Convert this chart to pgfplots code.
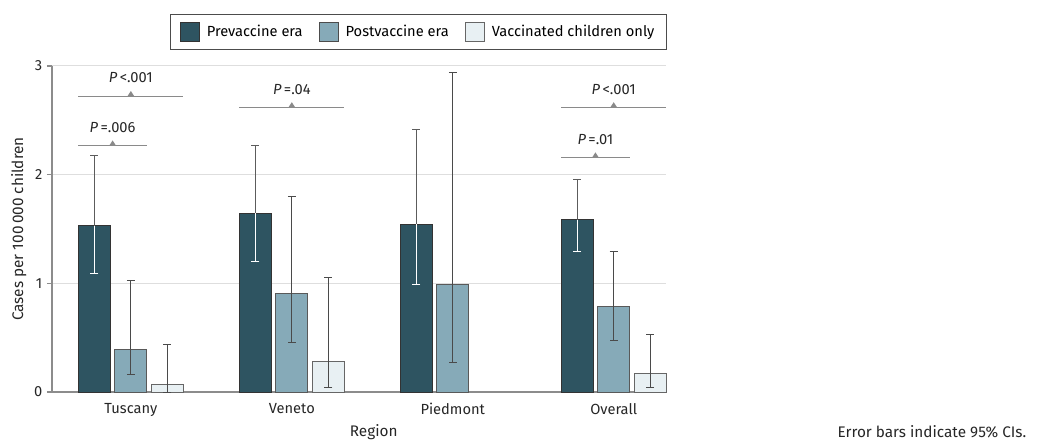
\documentclass[border=0pt]{standalone}
\usepackage{pgfplots}
\pgfplotsset{compat=1.18}
\usepackage{fontspec}
\setmainfont{Fira Sans}
\definecolor{preC}{HTML}{2E5461}
\definecolor{postC}{HTML}{86AAB8}
\definecolor{vacC}{HTML}{E8F0F3}
\definecolor{errC}{HTML}{4A4A4A}
\definecolor{annC}{HTML}{8A8A8A}
\definecolor{gridC}{HTML}{DEDEDE}
\definecolor{axC}{HTML}{8C8C8C}

% bar positions: category centre -0.2267 (pre), 0 (post), +0.2267 (vaccinated)
\pgfplotstableread{
x y ep em
-0.2267 1.53 0.65 0.44
0.7733 1.645 0.625 0.448
1.7733 1.546 0.874 0.560
2.7733 1.583 0.373 0.294
}\pre
\pgfplotstableread{
x y ep em
0 0.39 0.635 0.23
1 0.903 0.894 0.444
2 0.992 1.948 0.722
3 0.784 0.511 0.306
}\post
\pgfplotstableread{
x y ep em
0.2267 0.07 0.37 0.07
1.2267 0.285 0.765 0.239
3.2267 0.174 0.352 0.128
}\vac

\begin{document}
\begin{tikzpicture}
\useasboundingbox (0pt,0pt) rectangle (783pt,331.5pt);
\begin{axis}[
  at={(39pt,37.5pt)}, anchor=south west,
  scale only axis, width=460.5pt, height=244.5pt,
  xmin=-0.49, xmax=3.325, ymin=0, ymax=3,
  clip=false,
  axis x line*=bottom, axis y line*=left,
  axis line style={-, draw=axC, line width=0.9pt},
  xtick={0,1,2,3}, xticklabels={Tuscany,Veneto,Piedmont,Overall},
  ytick={0,1,2,3},
  x tick style={draw=none},
  y tick style={draw=axC, line width=0.9pt},
  tick align=outside, major tick length=3.75pt,
  ymajorgrids, grid style={draw=gridC, line width=0.75pt},
  tick label style={font=\fontsize{11}{13}\selectfont, text=black!85},
  /pgf/number format/assume math mode=true,
  xticklabel style={yshift=-1pt},
  ylabel={Cases per 100\,000 children},
  xlabel={Region},
  label style={font=\fontsize{11.5}{13}\selectfont, text=black!85},
  ylabel style={yshift=-1pt},
  xlabel style={at={(axis description cs:0.524,0)}, anchor=north, yshift=-21pt},
  legend columns=3,
  legend style={at={(rel axis cs:1.0015,1)}, anchor=south east, yshift=12pt,
    draw=black!70, line width=0.75pt, font=\fontsize{11}{13}\selectfont,
    inner xsep=7pt, inner ysep=5.5pt,
    /tikz/every odd column/.append style={column sep=3pt},
    /tikz/every even column/.append style={column sep=10pt}},
]
\addlegendimage{legend image code/.code={\draw[fill=preC,draw=black!80,line width=0.75pt] (0pt,-7.25pt) rectangle (14.5pt,7.25pt);}}
\addlegendentry{Prevaccine era}
\addlegendimage{legend image code/.code={\draw[fill=postC,draw=black!70,line width=0.75pt] (0pt,-7.25pt) rectangle (14.5pt,7.25pt);}}
\addlegendentry{Postvaccine era}
\addlegendimage{legend image code/.code={\draw[fill=vacC,draw=black!60,line width=0.75pt] (0pt,-7.25pt) rectangle (14.5pt,7.25pt);}}
\addlegendentry{Vaccinated children only}

\addplot[ybar, bar width=24pt, bar shift=0pt, fill=preC, draw=black!80, line width=0.75pt,
  error bars/.cd, y dir=both, y explicit,
  error bar style={draw=errC!90, line width=0.75pt},
  error mark options={rotate=90, mark size=3pt, draw=errC!90, line width=0.75pt}]
  table[x=x, y=y, y error plus=ep, y error minus=em] {\pre};
\addplot[ybar, bar width=24pt, bar shift=0pt, fill=none, draw=none,
  error bars/.cd, y dir=minus, y explicit,
  error bar style={draw=white, line width=0.75pt},
  error mark options={rotate=90, mark size=3pt, draw=white, line width=0.75pt}]
  table[x=x, y=y, y error plus=ep, y error minus=em] {\pre};
\addplot[ybar, bar width=24pt, bar shift=0pt, fill=postC, draw=black!65, line width=0.75pt,
  error bars/.cd, y dir=both, y explicit,
  error bar style={draw=errC, line width=0.75pt},
  error mark options={rotate=90, mark size=3pt, draw=errC, line width=0.75pt}]
  table[x=x, y=y, y error plus=ep, y error minus=em] {\post};
\addplot[ybar, bar width=24pt, bar shift=0pt, fill=vacC, draw=black!60, line width=0.75pt,
  error bars/.cd, y dir=both, y explicit,
  error bar style={draw=errC, line width=0.75pt},
  error mark options={rotate=90, mark size=3pt, draw=errC, line width=0.75pt}]
  table[x=x, y=y, y error plus=ep, y error minus=em] {\vac};

% significance brackets
\begin{scope}[annC, line width=0.9pt]
\draw (axis cs:-0.326,2.72) -- (axis cs:0.326,2.72);
\fill (axis cs:-0.022,2.72) -- (axis cs:0.022,2.72) -- (axis cs:0,2.77) -- cycle;
\draw (axis cs:-0.326,2.265) -- (axis cs:0.099,2.265);
\fill (axis cs:-0.1355,2.265) -- (axis cs:-0.0915,2.265) -- (axis cs:-0.1135,2.315) -- cycle;
\draw (axis cs:0.674,2.617) -- (axis cs:1.326,2.617);
\fill (axis cs:0.978,2.617) -- (axis cs:1.022,2.617) -- (axis cs:1,2.667) -- cycle;
\draw (axis cs:2.674,2.617) -- (axis cs:3.326,2.617);
\fill (axis cs:2.978,2.617) -- (axis cs:3.022,2.617) -- (axis cs:3,2.667) -- cycle;
\draw (axis cs:2.674,2.155) -- (axis cs:3.099,2.155);
\fill (axis cs:2.8645,2.155) -- (axis cs:2.9085,2.155) -- (axis cs:2.8865,2.205) -- cycle;
\end{scope}
\begin{scope}[every node/.style={font=\fontsize{11}{13}\selectfont, text=black!85, yshift=13.9pt}]
\node at (axis cs:0,2.72) {\textit{P}\,<.001};
\node at (axis cs:-0.1135,2.265) {\textit{P}\,=.006};
\node at (axis cs:1,2.617) {\textit{P}\,=.04};
\node at (axis cs:3,2.617) {\textit{P}\,<.001};
\node at (axis cs:2.8865,2.155) {\textit{P}\,=.01};
\end{scope}
\end{axis}
\node[anchor=east, font=\fontsize{11.5}{13}\selectfont, text=black!85] at (773.25pt,7.5pt) {Error bars indicate 95\% CIs.};
\end{tikzpicture}
\end{document}
